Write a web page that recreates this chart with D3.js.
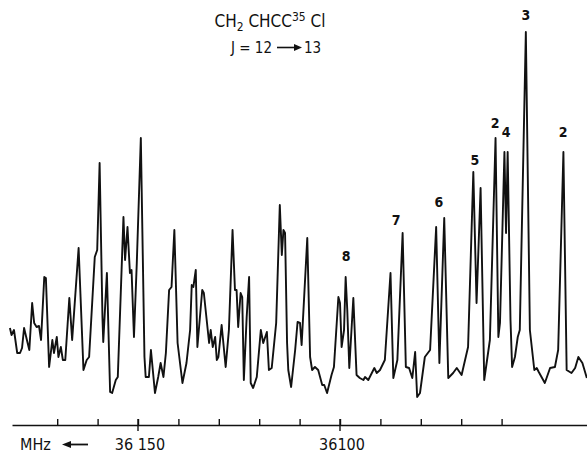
<!DOCTYPE html>
<html>
<head>
<meta charset="UTF-8">
<title>CH2CHCC35Cl J = 12 -> 13</title>
<script src="https://cdnjs.cloudflare.com/ajax/libs/d3/7.8.5/d3.min.js"></script>
<style>
  body { margin: 0; background: #fff; }
  svg text { font-family: "Liberation Sans Narrow", "DejaVu Sans Condensed", sans-serif; fill: #111; }
</style>
</head>
<body>
<svg id="chart" width="587" height="453"></svg>
<script>
// spectrum trace (frequency in MHz, signal in arbitrary units)
var freq = [
  36181.7, 36181.3, 36180.7, 36179.9, 36179.2, 36178.7, 36178.2, 36177.5, 36176.9, 36176.2,
  36175.7, 36175.1, 36174.5, 36174.0, 36173.2, 36172.8, 36172.0, 36171.2, 36170.8, 36170.1,
  36169.7, 36169.1, 36168.6, 36168.0, 36167.0, 36166.3, 36164.7, 36163.5, 36162.7, 36162.1,
  36160.7, 36160.1, 36159.5, 36158.8, 36158.6, 36157.7, 36156.9, 36156.4, 36155.5, 36155.0,
  36153.6, 36153.2, 36152.6, 36152.0, 36151.6, 36151.0, 36150.3, 36149.3, 36148.4, 36148.1,
  36147.3, 36146.8, 36145.8, 36145.0, 36144.4, 36143.7, 36143.1, 36142.3, 36141.7, 36141.0,
  36140.2, 36139.0, 36138.0, 36137.1, 36136.7, 36136.3, 36135.7, 36135.3, 36134.1, 36133.7,
  36132.4, 36132.0, 36131.5, 36130.9, 36130.5, 36130.1, 36129.3, 36128.3, 36127.5, 36126.6,
  36126.0, 36125.6, 36125.2, 36124.6, 36124.2, 36123.8, 36123.1, 36122.5, 36122.1, 36121.5,
  36120.6, 36119.6, 36119.0, 36118.1, 36117.6, 36116.9, 36115.8, 36114.9, 36114.4, 36114.0,
  36113.6, 36113.1, 36112.8, 36112.1, 36111.1, 36110.5, 36109.9, 36109.5, 36108.1, 36107.4,
  36106.9, 36106.2, 36105.4, 36104.4, 36103.9, 36103.2, 36102.1, 36101.5, 36100.4, 36100.0,
  36099.6, 36099.0, 36098.6, 36098.2, 36097.7, 36096.7, 36095.9, 36095.1, 36094.2, 36093.8,
  36093.0, 36091.5, 36090.9, 36090.1, 36088.9, 36087.5, 36086.8, 36085.8, 36084.5, 36083.7,
  36082.9, 36082.1, 36081.4, 36080.9, 36080.2, 36079.0, 36077.7, 36076.2, 36075.4, 36074.2,
  36073.2, 36072.0, 36071.1, 36069.9, 36068.3, 36067.0, 36066.2, 36065.2, 36064.3, 36062.9,
  36061.5, 36060.8, 36060.4, 36059.3, 36058.9, 36058.5, 36057.8, 36057.4, 36056.7, 36056.0,
  36055.5, 36054.0, 36053.0, 36051.9, 36051.3, 36050.8, 36049.3, 36048.0, 36046.8, 36046.0,
  36044.7, 36043.9, 36042.7, 36041.8, 36041.0, 36040.0, 36038.9
];
var signal = [
  72, 65, 70, 47, 47, 52, 72, 60, 50, 97,
  77, 73, 74, 60, 123, 122, 33, 60, 47, 63,
  43, 53, 40, 40, 102, 60, 152, 30, 40, 43,
  143, 150, 237, 83, 58, 127, 8, 7, 20, 23,
  183, 140, 173, 127, 130, 63, 137, 262, 43, 23,
  23, 50, 7, 23, 37, 23, 47, 110, 113, 170,
  57, 17, 37, 70, 115, 113, 130, 53, 110, 107,
  57, 70, 53, 63, 40, 43, 75, 33, 70, 170,
  110, 110, 73, 107, 103, 20, 83, 123, 17, 12,
  23, 70, 57, 68, 30, 32, 77, 195, 145, 170,
  167, 57, 30, 13, 50, 78, 77, 55, 162, 43,
  30, 33, 30, 15, 15, 7, 25, 33, 103, 97,
  53, 70, 123, 90, 32, 102, 25, 22, 20, 23,
  20, 32, 27, 30, 40, 127, 22, 40, 167, 33,
  32, 22, 48, 3, 7, 43, 50, 173, 37, 182,
  22, 27, 32, 25, 53, 228, 97, 212, 20, 60,
  262, 63, 77, 248, 167, 248, 80, 33, 43, 63,
  70, 368, 70, 30, 32, 28, 17, 32, 33, 50,
  248, 30, 27, 32, 43, 37, 22
];

// peak assignments and the level (signal units) where each number sits
var peakText = ["8", "7", "6", "5", "2", "4", "3", "2"];
var peakFreq = [36098.5, 36086.1, 36075.5, 36066.6, 36061.6, 36058.9, 36054.0, 36044.8];
var peakLevel = [144, 180, 198, 240, 277, 268, 385, 268];

// frequency axis
var minorTicks = [36170, 36160, 36150, 36140, 36130, 36120, 36110, 36100, 36090, 36080, 36070, 36060];
var majorTicks = [36150, 36100];
var majorLabels = ["36 150", "36100"];

var svg = d3.select("#chart");

// frequency runs right to left on the recording
var x = d3.scaleLinear().domain([36150, 36100]).range([138, 340]);
x.domain([x.invert(12), x.invert(587)]).range([12, 587]);
var y = d3.scaleLinear().domain([0, 370]).range([400, 30]);

var pts = freq.map(function(f, i) { return [f, signal[i]]; });

var line = d3.line()
    .x(function(d) { return x(d[0]); })
    .y(function(d) { return y(d[1]); });

svg.append("path")
    .datum(pts)
    .attr("d", line)
    .attr("fill", "none")
    .attr("stroke", "#111")
    .attr("stroke-width", 1.9)
    .attr("stroke-linejoin", "round");

// axis with small ticks above the line
var axisY = 425;
var axis = svg.append("g")
    .attr("transform", "translate(0," + axisY + ")")
    .call(d3.axisTop(x).tickValues(minorTicks).tickSize(6).tickSizeOuter(0).tickFormat(""));
axis.selectAll("path, line").attr("stroke", "#111").attr("stroke-width", 1.4);

// long ticks for the labelled values
svg.selectAll(".major")
    .data(majorTicks)
    .enter().append("line")
    .attr("class", "major")
    .attr("x1", function(d) { return x(d); })
    .attr("x2", function(d) { return x(d); })
    .attr("y1", axisY - 6)
    .attr("y2", axisY + 6)
    .attr("stroke", "#111")
    .attr("stroke-width", 1.4);

svg.selectAll(".flabel")
    .data(majorTicks)
    .enter().append("text")
    .attr("class", "flabel")
    .attr("x", function(d) { return x(d) + 2; })
    .attr("y", 450)
    .attr("text-anchor", "middle")
    .attr("font-size", 16)
    .text(function(d, i) { return majorLabels[i]; });

// MHz with arrow pointing to higher frequency
svg.append("text")
    .attr("x", 20)
    .attr("y", 450)
    .attr("font-size", 16)
    .text("MHz");
svg.append("line")
    .attr("x1", 68).attr("x2", 88)
    .attr("y1", 444.5).attr("y2", 444.5)
    .attr("stroke", "#111").attr("stroke-width", 1.8);
svg.append("path")
    .attr("d", "M62,444.5 L71,441 L71,448 Z")
    .attr("fill", "#111");

// peak numbers
svg.selectAll(".plabel")
    .data(peakText)
    .enter().append("text")
    .attr("class", "plabel")
    .attr("x", function(d, i) { return x(peakFreq[i]); })
    .attr("y", function(d, i) { return y(peakLevel[i]); })
    .attr("dy", "0.36em")
    .attr("text-anchor", "middle")
    .attr("font-size", 14)
    .attr("font-weight", "bold")
    .text(function(d) { return d; });

// title
var title = svg.append("text")
    .attr("x", 270)
    .attr("y", 27)
    .attr("text-anchor", "middle")
    .attr("font-size", 17);
title.append("tspan").text("CH");
title.append("tspan").attr("font-size", 12).attr("dy", 4).text("2");
title.append("tspan").attr("dy", -4).text(" CHCC");
title.append("tspan").attr("font-size", 12).attr("dy", -6).text("35");
title.append("tspan").attr("dy", 6).text(" Cl");

// J = 12 -> 13, with a drawn arrow like the original
svg.append("text")
    .attr("x", 272)
    .attr("y", 53)
    .attr("text-anchor", "end")
    .attr("font-size", 15)
    .text("J =  12");
svg.append("line")
    .attr("x1", 277).attr("x2", 296)
    .attr("y1", 47.5).attr("y2", 47.5)
    .attr("stroke", "#111").attr("stroke-width", 1.6);
svg.append("path")
    .attr("d", "M302,47.5 L294,44 L294,51 Z")
    .attr("fill", "#111");
svg.append("text")
    .attr("x", 304)
    .attr("y", 53)
    .attr("font-size", 15)
    .text("13");
</script>
</body>
</html>
